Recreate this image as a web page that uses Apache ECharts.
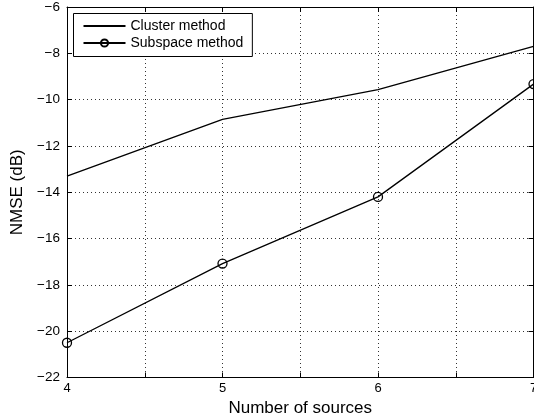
<!DOCTYPE html>
<html><head><meta charset="utf-8">
<script src="https://cdn.jsdelivr.net/npm/echarts@6/dist/echarts.min.js"></script>
<style>html,body{margin:0;padding:0;background:#fff}#c{width:534px;height:419px}</style>
</head><body><div id="c"></div>
<script>
const sources = [4, 5, 6, 7];
const clusterNMSE = [-13.3, -10.85, -9.57, -7.7];
const subspaceNMSE = [-20.5, -17.08, -14.2, -9.33];
const seriesNames = ['Cluster method', 'Subspace method'];
const xLabel = 'Number of sources';
const yLabel = 'NMSE (dB)';

const font = 'Liberation Sans, Arial, Helvetica, sans-serif';
const fmt = v => (v < 0 ? '\u2212' + Math.abs(v) : String(v));
const chart = echarts.init(document.getElementById('c'));
const gridLine = {show: true, lineStyle: {color: '#333', type: [1, 3], width: 1}};
const axisLine = {show: true, lineStyle: {color: '#000', width: 1}};
const tick = {show: true, inside: true, length: 5, lineStyle: {color: '#000'}};
chart.setOption({
  animation: false,
  backgroundColor: '#fff',
  grid: {left: 67, right: 0.5, top: 7, bottom: 41.5, containLabel: false, outerBoundsMode: 'none'},
  legend: {
    left: 73.5, top: 13.5, orient: 'vertical',
    itemWidth: 42, itemHeight: 9, itemGap: 3,
    padding: [5.5, 9, 6.5, 9],
    borderColor: '#000', borderWidth: 1, backgroundColor: '#fff', borderRadius: 0,
    textStyle: {fontFamily: font, fontSize: 14, color: '#000'},
    data: [
      {name: seriesNames[0], itemStyle: {opacity: 0}},
      {name: seriesNames[1]}
    ]
  },
  xAxis: [{
    type: 'value', min: 4, max: 7, interval: 0.5,
    name: xLabel, nameLocation: 'middle', nameGap: 21,
    nameTextStyle: {fontFamily: font, fontSize: 17, color: '#000'},
    axisLine: axisLine, axisTick: tick,
    axisLabel: {fontFamily: font, fontSize: 13, color: '#000', margin: 4,
      formatter: v => (Number.isInteger(v) ? String(v) : '')},
    splitLine: gridLine
  }, {
    type: 'value', min: 4, max: 7, interval: 0.5, position: 'top',
    axisLine: axisLine, axisTick: tick,
    axisLabel: {show: false}, splitLine: {show: false}
  }],
  yAxis: [{
    type: 'value', min: -22, max: -6, interval: 2,
    name: yLabel, nameLocation: 'middle', nameGap: 33, nameRotate: 90,
    nameTextStyle: {fontFamily: font, fontSize: 17, color: '#000'},
    axisLine: axisLine, axisTick: tick,
    axisLabel: {fontFamily: font, fontSize: 13.5, color: '#000', margin: 7, formatter: fmt},
    splitLine: gridLine
  }, {
    type: 'value', min: -22, max: -6, interval: 2, position: 'right',
    axisLine: axisLine, axisTick: tick,
    axisLabel: {show: false}, splitLine: {show: false}
  }],
  series: [{
    name: seriesNames[0], type: 'line',
    data: sources.map((x, i) => [x, clusterNMSE[i]]),
    symbol: 'none', lineStyle: {color: '#000', width: 1.3}, itemStyle: {color: '#000'}
  }, {
    name: seriesNames[1], type: 'line',
    data: sources.map((x, i) => [x, subspaceNMSE[i]]),
    symbol: 'circle', symbolSize: 9,
    lineStyle: {color: '#000', width: 1.3},
    itemStyle: {color: 'rgba(255,255,255,0)', borderColor: '#000', borderWidth: 1.3}
  }]
});
</script></body></html>
